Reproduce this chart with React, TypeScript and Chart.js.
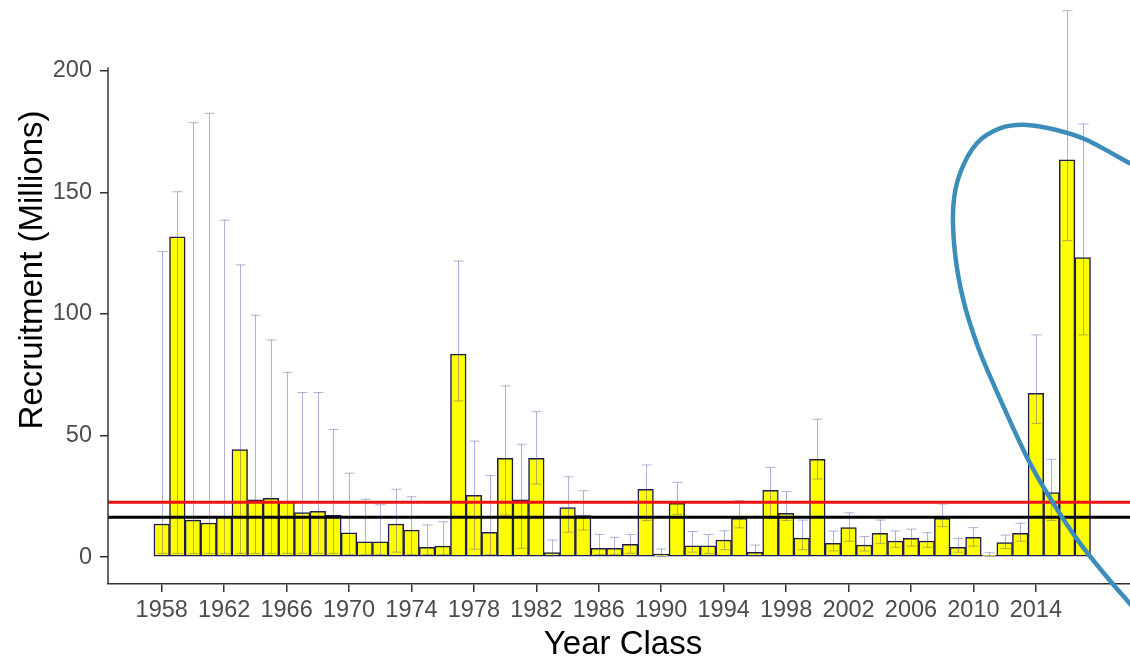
import React, { useEffect, useRef } from "react";
import { Chart, registerables } from "chart.js";

Chart.register(...registerables);

// ---------- DATA ----------
const years = [
  1958, 1959, 1960, 1961, 1962, 1963, 1964, 1965, 1966, 1967, 1968, 1969,
  1970, 1971, 1972, 1973, 1974, 1975, 1976, 1977, 1978, 1979, 1980, 1981,
  1982, 1983, 1984, 1985, 1986, 1987, 1988, 1989, 1990, 1991, 1992, 1993,
  1994, 1995, 1996, 1997, 1998, 1999, 2000, 2001, 2002, 2003, 2004, 2005,
  2006, 2007, 2008, 2009, 2010, 2011, 2012, 2013, 2014, 2015, 2016, 2017,
];

const recruitment = [
  13.6, 131.7, 15.2, 14.0, 16.5, 44.2, 23.5, 24.1, 22.6, 18.3, 18.8, 17.2,
  10.0, 6.3, 6.3, 13.6, 11.1, 4.0, 4.5, 83.5, 25.4, 10.2, 40.6, 23.5,
  40.6, 1.8, 20.3, 17.1, 3.6, 3.6, 5.2, 27.9, 1.1, 22.1, 4.6, 4.6,
  7.0, 15.9, 1.9, 27.4, 18.0, 7.8, 40.2, 5.6, 12.1, 4.9, 9.7, 6.6,
  7.7, 6.6, 15.9, 4.0, 8.1, 0.7, 5.9, 9.7, 67.4, 26.5, 163.4, 123.2,
];

const upperCI = [
  125.7, 150.3, 178.7, 182.6, 138.6, 120.2, 99.5, 89.3, 76.0, 67.7, 67.7, 52.5,
  34.5, 23.8, 21.5, 27.9, 24.8, 13.2, 14.5, 121.8, 47.7, 33.5, 70.4, 46.4,
  59.8, 7.0, 33.0, 27.3, 9.3, 8.1, 9.3, 37.9, 3.3, 30.7, 10.5, 9.3,
  10.8, 23.2, 4.9, 36.9, 26.9, 15.2, 56.7, 10.7, 18.2, 8.4, 15.2, 10.7,
  11.5, 10.0, 21.8, 7.7, 12.1, 1.8, 9.0, 13.9, 91.4, 40.2, 224.8, 178.2,
];

const lowerCI = [
  1.5, 1.5, 1.5, 1.5, 1.5, 1.5, 1.5, 1.5, 1.5, 1.5, 1.5, 1.5,
  1.0, 1.0, 1.0, 2.0, 1.0, 1.0, 1.0, 64.2, 3.2, 1.0, 17.3, 3.6,
  30.0, 0.5, 10.2, 11.1, 1.0, 1.0, 1.5, 15.0, 0.3, 17.6, 2.0, 1.5,
  3.0, 12.0, 0.5, 16.0, 15.0, 3.0, 32.1, 2.5, 6.5, 2.5, 5.5, 4.0,
  4.5, 4.0, 12.5, 2.0, 4.5, 0.2, 3.5, 6.5, 55.0, 15.0, 130.2, 91.4,
];

const referenceLevel = 22.5; // red line
const meanLevel = 16.4; // black line

const xTickValues = [1958, 1962, 1966, 1970, 1974, 1978, 1982, 1986, 1990, 1994, 1998, 2002, 2006, 2010, 2014];
const yTickValues = [0, 50, 100, 150, 200];

const xMin = 1954.56;
const xMax = 2020.03;
const yMin = -11.1;
const yMax = 229.2;
const yAxisLineTop = 201.5;

// hand-drawn highlight loop (in year / value units)
const loopYears = [
  2020.67, 2020.03, 2017.26, 2015.33, 2013.41, 2011.7, 2010.21, 2009.14, 2008.71,
  2008.82, 2009.35, 2010.21, 2011.17, 2013.41, 2015.12, 2016.83, 2018.54, 2019.82, 2020.67,
];
const loopValues = [
  160.1, 162.0, 171.6, 175.7, 177.8, 176.4, 170.2, 157.9, 144.2,
  125.0, 105.8, 87.9, 72.8, 41.3, 22.1, 5.6, -8.1, -17.7, -23.9,
];

const xTitle = "Year Class";
const yTitle = "Recruitment (Millions)";

const FONT = "'Liberation Sans', Arial, sans-serif";

export default function App() {
  const ref = useRef<HTMLCanvasElement | null>(null);

  useEffect(() => {
    if (!ref.current) return;

    const errorBars = {
      id: "errorBars",
      afterDatasetDraw(chart: any, args: any) {
        if (args.index !== 0) return;
        const { ctx, scales } = chart;
        const xs = scales.x;
        const ys = scales.y;
        ctx.save();
        ctx.strokeStyle = "rgba(70,70,160,0.42)";
        ctx.lineWidth = 1;
        for (let i = 0; i < years.length; i++) {
          const x = Math.round(xs.getPixelForValue(years[i])) + 0.5;
          const yu = ys.getPixelForValue(upperCI[i]);
          const yl = ys.getPixelForValue(lowerCI[i]);
          const half = 5;
          ctx.beginPath();
          ctx.moveTo(x, yu);
          ctx.lineTo(x, yl);
          ctx.moveTo(x - half, yu);
          ctx.lineTo(x + half, yu);
          ctx.moveTo(x - half, yl);
          ctx.lineTo(x + half, yl);
          ctx.stroke();
        }
        ctx.restore();
      },
    };

    const overlay = {
      id: "overlay",
      afterDraw(chart: any) {
        const { ctx, scales, chartArea } = chart;
        const xs = scales.x;
        const ys = scales.y;
        ctx.save();
        // y axis line
        ctx.strokeStyle = "#333333";
        ctx.lineWidth = 1.5;
        ctx.beginPath();
        ctx.moveTo(chartArea.left, ys.getPixelForValue(yAxisLineTop));
        ctx.lineTo(chartArea.left, chartArea.bottom);
        ctx.stroke();

        // titles
        ctx.fillStyle = "#000000";
        ctx.font = `33px ${FONT}`;
        ctx.textAlign = "center";
        ctx.textBaseline = "alphabetic";
        ctx.fillText(xTitle, (chartArea.left + chartArea.right) / 2 + 4, 654);
        ctx.save();
        ctx.translate(42, 270);
        ctx.rotate(-Math.PI / 2);
        ctx.fillText(yTitle, 0, 0);
        ctx.restore();

        // highlight loop
        const pts = loopYears.map((yr, i) => [xs.getPixelForValue(yr), ys.getPixelForValue(loopValues[i])]);
        ctx.strokeStyle = "#3d8dbb";
        ctx.lineWidth = 4.5;
        ctx.lineCap = "round";
        ctx.beginPath();
        ctx.moveTo(pts[0][0], pts[0][1]);
        for (let i = 0; i < pts.length - 1; i++) {
          const p0 = pts[Math.max(0, i - 1)];
          const p1 = pts[i];
          const p2 = pts[i + 1];
          const p3 = pts[Math.min(pts.length - 1, i + 2)];
          const c1x = p1[0] + (p2[0] - p0[0]) / 6;
          const c1y = p1[1] + (p2[1] - p0[1]) / 6;
          const c2x = p2[0] - (p3[0] - p1[0]) / 6;
          const c2y = p2[1] - (p3[1] - p1[1]) / 6;
          ctx.bezierCurveTo(c1x, c1y, c2x, c2y, p2[0], p2[1]);
        }
        ctx.stroke();
        ctx.restore();
      },
    };

    const chart = new Chart(ref.current, {
      type: "bar",
      data: {
        datasets: [
          {
            type: "bar",
            data: years.map((y, i) => ({ x: y, y: recruitment[i] })),
            backgroundColor: "#ffff00",
            borderColor: "#1c1c55",
            borderWidth: 1.5,
            borderSkipped: false,
            barPercentage: 1,
            categoryPercentage: 1,
            order: 3,
          } as any,
          {
            type: "line",
            data: [
              { x: xMin, y: meanLevel },
              { x: xMax, y: meanLevel },
            ],
            borderColor: "#000000",
            borderWidth: 3,
            pointRadius: 0,
            order: 2,
          } as any,
          {
            type: "line",
            data: [
              { x: xMin, y: referenceLevel },
              { x: xMax, y: referenceLevel },
            ],
            borderColor: "#ee1111",
            borderWidth: 3,
            pointRadius: 0,
            order: 1,
          } as any,
        ],
      },
      options: {
        responsive: false,
        animation: false,
        devicePixelRatio: 1,
        layout: { padding: 0 },
        plugins: { legend: { display: false }, tooltip: { enabled: false } },
        scales: {
          x: {
            type: "linear",
            min: xMin,
            max: xMax,
            offset: false,
            grid: { display: true, offset: false, drawOnChartArea: false, drawTicks: true, tickLength: 8, color: "#333333", lineWidth: 1.5 },
            border: { display: true, color: "#333333", width: 1.5 },
            ticks: {
              autoSkip: false,
              maxRotation: 0,
              minRotation: 0,
              padding: 4,
              color: "#4d4d4d",
              font: { size: 23.5, family: FONT },
              callback: (v: any) => String(v),
            },
            afterBuildTicks: (scale: any) => {
              scale.ticks = xTickValues.map((v) => ({ value: v }));
            },
            afterFit: (scale: any) => {
              scale.height = 75;
              scale.paddingLeft = 0;
              scale.paddingRight = 0;
            },
          },
          y: {
            type: "linear",
            min: yMin,
            max: yMax,
            grid: { display: true, offset: false, drawOnChartArea: false, drawTicks: true, tickLength: 8, color: "#333333", lineWidth: 1.5 },
            border: { display: false },
            ticks: {
              padding: 8,
              color: "#4d4d4d",
              font: { size: 23.5, family: FONT },
              callback: (v: any) => String(v),
            },
            afterBuildTicks: (scale: any) => {
              scale.ticks = yTickValues.map((v) => ({ value: v }));
            },
            afterFit: (scale: any) => {
              scale.width = 108;
              scale.paddingTop = 0;
              scale.paddingBottom = 0;
            },
          },
        },
      } as any,
      plugins: [errorBars, overlay],
    });

    return () => chart.destroy();
  }, []);

  return (
    <div style={{ position: "absolute", left: 0, top: 0, width: 1130, height: 659, background: "#ffffff" }}>
      <canvas ref={ref} width={1130} height={659} style={{ display: "block" }} />
    </div>
  );
}
